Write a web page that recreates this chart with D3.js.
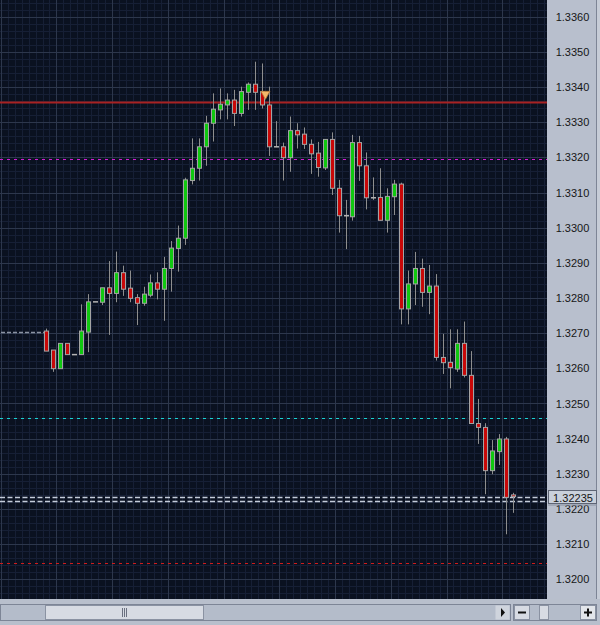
<!DOCTYPE html>
<html>
<head>
<meta charset="UTF-8">
<title>EURUSD candles</title>
<style>
  body { margin: 0; background: #b8bfcc; }
  svg { display: block; font-family: 'Liberation Sans', Arial, sans-serif; }
  .axis text { font-size: 11px; fill: #161616; }
  .axis path, .axis line { display: none; }
</style>
</head>
<body>
<script src="https://d3js.org/d3.v7.min.js"></script>
<script>
// candle values (oldest first)
const opens = [
  1.32706, 1.32652, 1.32599, 1.32671, 1.32639, 1.32639, 1.32703, 1.32789, 1.32788, 1.32829,
  1.32813, 1.32872, 1.32828, 1.32801, 1.32785, 1.32808, 1.32843, 1.32825, 1.32884, 1.32941,
  1.32970, 1.33134, 1.33169, 1.33230, 1.33297, 1.33335, 1.33349, 1.33363, 1.33325, 1.33385,
  1.33408, 1.33387, 1.33349, 1.33230, 1.33230, 1.33199, 1.33276, 1.33266, 1.33237, 1.33212,
  1.33170, 1.33251, 1.33112, 1.33034, 1.33031, 1.33242, 1.33176, 1.33085, 1.33086, 1.33021,
  1.33088, 1.33124, 1.32769, 1.32840, 1.32884, 1.32816, 1.32834, 1.32631, 1.32617, 1.32598,
  1.32671, 1.32580, 1.32443, 1.32432, 1.32309, 1.32363, 1.32399, 1.32240
];
const highs = [
  1.32713, 1.32652, 1.32671, 1.32671, 1.32639, 1.32782, 1.32811, 1.32789, 1.32829, 1.32905,
  1.32932, 1.32892, 1.32878, 1.32811, 1.32832, 1.32867, 1.32873, 1.32917, 1.32962, 1.33006,
  1.33142, 1.33254, 1.33254, 1.33318, 1.33382, 1.33396, 1.33382, 1.33392, 1.33401, 1.33413,
  1.33472, 1.33467, 1.33401, 1.33303, 1.33242, 1.33316, 1.33297, 1.33285, 1.33251, 1.33244,
  1.33251, 1.33271, 1.33136, 1.33079, 1.33264, 1.33261, 1.33214, 1.33143, 1.33169, 1.33112,
  1.33136, 1.33128, 1.32878, 1.32931, 1.32912, 1.32894, 1.32868, 1.32698, 1.32711, 1.32711,
  1.32733, 1.32649, 1.32513, 1.32444, 1.32396, 1.32413, 1.32405, 1.32246
];
const lows = [
  1.32649, 1.32590, 1.32599, 1.32639, 1.32639, 1.32639, 1.32646, 1.32789, 1.32780, 1.32695,
  1.32788, 1.32806, 1.32788, 1.32723, 1.32778, 1.32802, 1.32796, 1.32735, 1.32818, 1.32875,
  1.32951, 1.33123, 1.33134, 1.33176, 1.33245, 1.33308, 1.33308, 1.33289, 1.33316, 1.33335,
  1.33335, 1.33339, 1.33204, 1.33229, 1.33134, 1.33159, 1.33225, 1.33224, 1.33153, 1.33145,
  1.33164, 1.33093, 1.32986, 1.32939, 1.33020, 1.33133, 1.33052, 1.33079, 1.33021, 1.32986,
  1.33036, 1.32725, 1.32725, 1.32780, 1.32775, 1.32754, 1.32622, 1.32584, 1.32543, 1.32590,
  1.32574, 1.32442, 1.32385, 1.32242, 1.32299, 1.32325, 1.32128, 1.32189
];
const closes = [
  1.32649, 1.32599, 1.32671, 1.32639, 1.32639, 1.32706, 1.32789, 1.32789, 1.32829, 1.32813,
  1.32872, 1.32825, 1.32799, 1.32785, 1.32811, 1.32843, 1.32825, 1.32884, 1.32942, 1.32970,
  1.33136, 1.33169, 1.33230, 1.33297, 1.33337, 1.33351, 1.33363, 1.33325, 1.33387, 1.33408,
  1.33385, 1.33349, 1.33230, 1.33230, 1.33199, 1.33276, 1.33264, 1.33237, 1.33210, 1.33171,
  1.33251, 1.33112, 1.33034, 1.33034, 1.33242, 1.33176, 1.33085, 1.33085, 1.33021, 1.33089,
  1.33124, 1.32769, 1.32840, 1.32884, 1.32816, 1.32834, 1.32631, 1.32616, 1.32602, 1.32671,
  1.32580, 1.32443, 1.32432, 1.32309, 1.32365, 1.32399, 1.32233, 1.32235
];

// price scale labels
const priceTicks = [1.3200, 1.3210, 1.3220, 1.3230, 1.3240, 1.3250, 1.3260, 1.3270,
                    1.3280, 1.3290, 1.3300, 1.3310, 1.3320, 1.3330, 1.3340, 1.3350, 1.3360];

// horizontal levels drawn over the chart
const levelPrices = [1.33358, 1.33194, 1.32458, 1.32045];
const levelKinds = ['solidRed', 'magenta', 'cyan', 'dashRed'];
const bidPrice = 1.32235;
const askPrice = 1.32224;
const prevClose = 1.32703;
const sellMarker = { index: 31.5, price: 1.33365 };

const W = 600, H = 625;
const plotRight = 547, plotBottom = 599;

const svg = d3.select('body').append('svg')
    .attr('width', W)
    .attr('height', H);

// scales: candle index -> x, price -> y
const x = d3.scaleLinear().domain([0, opens.length - 1]).range([46, 512.7]);
const y = d3.scaleLinear().domain([1.3200, 1.3360]).range([579.3, 16.7]);

// chart background
svg.append('rect')
    .attr('width', plotRight)
    .attr('height', plotBottom)
    .attr('fill', '#0a1120');

const plot = svg.append('g');

// fine grid: one column per candle, one row per 2 pips
const minorX = d3.range(-7, 74).map(i => i + 0.5);
const minorY = d3.range(1.3194, 1.3372, 0.0002);

plot.selectAll('.minor-x')
    .data(minorX)
    .enter().append('line')
    .attr('x1', d => Math.round(x(d)) + 0.5)
    .attr('x2', d => Math.round(x(d)) + 0.5)
    .attr('y1', 0).attr('y2', plotBottom)
    .attr('stroke', '#161f35');

plot.selectAll('.minor-y')
    .data(minorY)
    .enter().append('line')
    .attr('x1', 0).attr('x2', plotRight)
    .attr('y1', d => Math.round(y(d)) + 0.5)
    .attr('y2', d => Math.round(y(d)) + 0.5)
    .attr('stroke', '#161f35');

// major grid: every 8 candles and every 10 pips
const majorX = d3.range(-6.5, 74, 8);
plot.selectAll('.major-x')
    .data(majorX)
    .enter().append('line')
    .attr('x1', d => Math.round(x(d)) + 0.5)
    .attr('x2', d => Math.round(x(d)) + 0.5)
    .attr('y1', 0).attr('y2', plotBottom)
    .attr('stroke', '#2d374c');

plot.selectAll('.major-y')
    .data(priceTicks)
    .enter().append('line')
    .attr('x1', 0).attr('x2', plotRight)
    .attr('y1', d => Math.round(y(d)) + 0.5)
    .attr('y2', d => Math.round(y(d)) + 0.5)
    .attr('stroke', '#2d374c');

// level lines
const levelStyle = {
    solidRed: { stroke: '#a82222', width: 2, dash: null },
    magenta:  { stroke: '#d41cd4', width: 1, dash: '3,4' },
    cyan:     { stroke: '#1ad2d2', width: 1, dash: '3,4' },
    dashRed:  { stroke: '#d01c1c', width: 1, dash: '3,4' }
};
plot.selectAll('.level')
    .data(levelPrices)
    .enter().append('line')
    .attr('x1', 0).attr('x2', plotRight)
    .attr('y1', d => Math.round(y(d)) + 0.5)
    .attr('y2', d => Math.round(y(d)) + 0.5)
    .attr('stroke', (d, i) => levelStyle[levelKinds[i]].stroke)
    .attr('stroke-width', (d, i) => levelStyle[levelKinds[i]].width)
    .attr('stroke-dasharray', (d, i) => levelStyle[levelKinds[i]].dash);

// previous close stub on the left
plot.append('line')
    .attr('x1', 1).attr('x2', x(0) - 2)
    .attr('y1', Math.round(y(prevClose)) + 0.5)
    .attr('y2', Math.round(y(prevClose)) + 0.5)
    .attr('stroke', '#8a92a2')
    .attr('stroke-width', 1.5)
    .attr('stroke-dasharray', '4,2');

// bid / ask lines
plot.selectAll('.quote')
    .data([bidPrice, askPrice])
    .enter().append('line')
    .attr('x1', 0).attr('x2', plotRight)
    .attr('y1', d => Math.round(y(d)) + 0.5)
    .attr('y2', d => Math.round(y(d)) + 0.5)
    .attr('stroke', '#c4ccda')
    .attr('stroke-width', 1.5)
    .attr('stroke-dasharray', '5,2.5');

// candles
const candles = opens.map((o, i) => ({ i, o, h: highs[i], l: lows[i], c: closes[i] }));

const cg = plot.selectAll('.candle')
    .data(candles)
    .enter().append('g')
    .attr('class', 'candle');

cg.append('line')
    .attr('x1', d => Math.round(x(d.i)) + 0.5)
    .attr('x2', d => Math.round(x(d.i)) + 0.5)
    .attr('y1', d => y(d.h))
    .attr('y2', d => y(d.l))
    .attr('stroke', '#8e8e8e');

cg.filter(d => d.o !== d.c).append('rect')
    .attr('x', d => Math.round(x(d.i)) - 1.5)
    .attr('width', 4)
    .attr('y', d => y(Math.max(d.o, d.c)))
    .attr('height', d => Math.max(1, Math.abs(y(d.o) - y(d.c))))
    .attr('fill', d => d.c > d.o ? '#10c810' : '#c80808')
    .attr('stroke', '#a4a4a4')
    .attr('stroke-width', 1);

cg.filter(d => d.o === d.c).append('rect')
    .attr('x', d => Math.round(x(d.i)) - 2)
    .attr('width', 5)
    .attr('y', d => y(d.o) - 0.75)
    .attr('height', 1.5)
    .attr('fill', '#b4b4b4');

// sell marker
const mx = x(sellMarker.index), my = y(sellMarker.price);
plot.append('path')
    .attr('d', `M${mx - 4.5},${my - 8}L${mx + 4.5},${my - 8}L${mx},${my}Z`)
    .attr('fill', '#f6b86a')
    .attr('stroke', '#b87a36')
    .attr('stroke-width', 0.8);

// price axis panel
svg.append('rect')
    .attr('x', plotRight).attr('y', 0)
    .attr('width', W - plotRight).attr('height', plotBottom)
    .attr('fill', '#b8bfcd');
svg.append('line')
    .attr('x1', 596.5).attr('x2', 596.5)
    .attr('y1', 0).attr('y2', plotBottom)
    .attr('stroke', '#7d8596');
svg.append('rect')
    .attr('x', 597).attr('y', 0)
    .attr('width', 3).attr('height', plotBottom)
    .attr('fill', '#c6ccd7');

const yAxis = d3.axisRight(y)
    .tickValues(priceTicks)
    .tickFormat(d3.format('.4f'))
    .tickSize(0)
    .tickPadding(0);

svg.append('g')
    .attr('class', 'axis')
    .attr('transform', `translate(572.5,0)`)
    .call(yAxis)
    .selectAll('text')
    .attr('text-anchor', 'middle')
    .attr('x', 0);

// current price box
const by = Math.round(y(bidPrice));
svg.append('rect')
    .attr('x', 548.5).attr('y', by - 6.5)
    .attr('width', 48).attr('height', 13)
    .attr('fill', '#c9d0db')
    .attr('stroke', '#5e6575');
svg.append('line')
    .attr('x1', 548).attr('x2', 597)
    .attr('y1', by + 8).attr('y2', by + 8)
    .attr('stroke', '#8a92a2');
svg.append('text')
    .attr('x', 573).attr('y', by + 4.5)
    .attr('text-anchor', 'middle')
    .style('font-size', '11px')
    .attr('fill', '#161616')
    .text(d3.format('.5f')(bidPrice));

// scroll bar along the bottom
const bar = svg.append('g');
bar.append('rect')
    .attr('x', 0).attr('y', plotBottom)
    .attr('width', W).attr('height', H - plotBottom)
    .attr('fill', '#b8bfcc');
bar.append('rect')
    .attr('x', 0.5).attr('y', 604.5)
    .attr('width', 510).attr('height', 16)
    .attr('fill', '#b4bcca').attr('stroke', '#7d8596');
bar.append('rect')
    .attr('x', 45.5).attr('y', 605.5)
    .attr('width', 158).attr('height', 14)
    .attr('fill', '#d7dbe3').attr('stroke', '#8a92a2');
[122.5, 124.5, 126.5].forEach(gx => {
    bar.append('line')
        .attr('x1', gx).attr('x2', gx)
        .attr('y1', 608).attr('y2', 617)
        .attr('stroke', '#6a7080');
});
bar.append('rect')
    .attr('x', 495.5).attr('y', 605.5)
    .attr('width', 14).attr('height', 14)
    .attr('fill', '#cfd4dd');
bar.append('path')
    .attr('d', 'M501,608L505,612.5L501,617Z')
    .attr('fill', '#111');

// zoom buttons
bar.append('rect')
    .attr('x', 513.5).attr('y', 604.5)
    .attr('width', 83).attr('height', 16)
    .attr('fill', '#b4bcca').attr('stroke', '#7d8596');
bar.append('rect')
    .attr('x', 514.5).attr('y', 605.5)
    .attr('width', 15).attr('height', 14)
    .attr('fill', '#d7dbe3').attr('stroke', '#8a92a2');
bar.append('line')
    .attr('x1', 518).attr('x2', 526)
    .attr('y1', 612.5).attr('y2', 612.5)
    .attr('stroke', '#111').attr('stroke-width', 2);
bar.append('rect')
    .attr('x', 539.5).attr('y', 605.5)
    .attr('width', 9).attr('height', 14)
    .attr('fill', '#d7dbe3').attr('stroke', '#8a92a2');
bar.append('rect')
    .attr('x', 580.5).attr('y', 605.5)
    .attr('width', 15).attr('height', 14)
    .attr('fill', '#e2e5ea').attr('stroke', '#8a92a2');
bar.append('path')
    .attr('d', 'M584,612.5H592M588,608.5V616.5')
    .attr('stroke', '#111').attr('stroke-width', 2);
</script>
</body>
</html>
